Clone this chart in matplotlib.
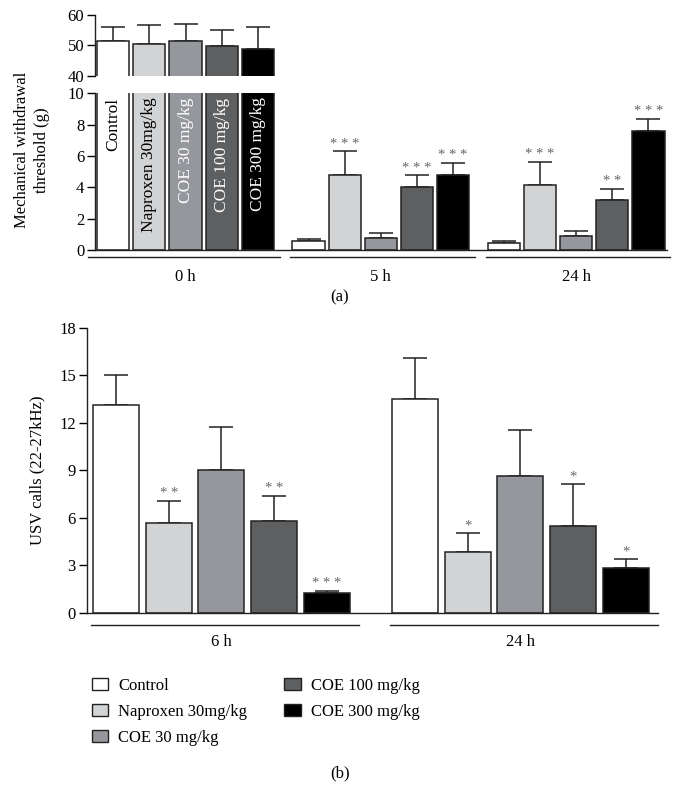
import matplotlib
matplotlib.use('Agg')
import matplotlib.pyplot as plt
import numpy as np
from matplotlib.patches import Patch

plt.rcParams['font.family'] = ['Liberation Serif', 'DejaVu Serif']
plt.rcParams['font.size'] = 12

treatments = ['Control', 'Naproxen 30mg/kg', 'COE 30 mg/kg', 'COE 100 mg/kg', 'COE 300 mg/kg']
colors = ['#ffffff', '#d2d3d5', '#95979c', '#5e5f61', '#000000']
inner_text = ['black', 'black', 'white', 'white', 'white']

# (a) mechanical withdrawal threshold (g)
times_a = ['0 h', '5 h', '24 h']
mwt_0h = [51.6, 50.5, 51.6, 49.9, 48.9]
mwt_0h_err = [4.3, 6.2, 5.5, 5.2, 7.0]
mwt_5h = [0.6, 4.8, 0.77, 4.0, 4.8]
mwt_5h_err = [0.13, 1.5, 0.33, 0.77, 0.76]
mwt_24h = [0.47, 4.13, 0.87, 3.21, 7.62]
mwt_24h_err = [0.13, 1.49, 0.34, 0.71, 0.75]
stars_a = [['', '', '', '', ''],
           ['', '***', '', '***', '***'],
           ['', '***', '', '**', '***']]

# (b) USV calls (22-27kHz)
times_b = ['6 h', '24 h']
usv_6h = [13.16, 5.70, 9.03, 5.80, 1.23]
usv_6h_err = [1.84, 1.35, 2.68, 1.57, 0.16]
usv_24h = [13.48, 3.84, 8.65, 5.51, 2.81]
usv_24h_err = [2.64, 1.20, 2.93, 2.64, 0.57]
stars_b = [['', '**', '', '**', '***'],
           ['', '*', '', '*', '*']]

star_col = '#666666'


def draw_group(ax, x0, vals, errs, width, stars=None):
    x = x0 + np.arange(len(vals))
    ax.bar(x, vals, width=width, color=colors, edgecolor='#222222', linewidth=1.1, zorder=2)
    ax.errorbar(x, vals, yerr=[np.zeros(len(vals)), errs], fmt='none', ecolor='#222222',
                elinewidth=1.1, capsize=8.5, capthick=1.1, zorder=1)
    if stars:
        for xi, v, e, s in zip(x, vals, errs, stars):
            if s:
                ax.annotate(' '.join(s), (xi, v + e), xytext=(0, 0.5), textcoords='offset points',
                            ha='center', va='bottom', fontsize=10.5, color=star_col)
    return x


def style_axis(ax):
    for s in ['top', 'right']:
        ax.spines[s].set_visible(False)
    for s in ['left', 'bottom']:
        ax.spines[s].set_linewidth(1.0)
        ax.spines[s].set_color('#222222')
    ax.set_xticks([])
    ax.tick_params(axis='y', direction='out', length=6, width=1.0, labelsize=12, pad=2)


fig = plt.figure(figsize=(6.8, 8.01), dpi=100)

# ---------- panel (a) ----------
step_a = 5.4
xlim_a = (-0.49, 2 * step_a + 4.51)
ax_lo = fig.add_axes([0.1404, 0.6879, 0.8404, 0.1954])
ax_hi = fig.add_axes([0.1404, 0.9051, 0.8404, 0.0762])

mwt_all = [mwt_0h, mwt_5h, mwt_24h]
mwt_err = [mwt_0h_err, mwt_5h_err, mwt_24h_err]
for g in range(3):
    draw_group(ax_lo, g * step_a, mwt_all[g], mwt_err[g], 0.89, stars_a[g])
draw_group(ax_hi, 0, mwt_0h, mwt_0h_err, 0.89)

ax_lo.set_xlim(*xlim_a)
ax_lo.set_ylim(0, 10)
ax_lo.set_yticks([0, 2, 4, 6, 8, 10])
style_axis(ax_lo)

ax_hi.set_xlim(*xlim_a)
ax_hi.set_ylim(40, 60)
ax_hi.set_yticks([40, 50, 60])
style_axis(ax_hi)
ax_hi.spines['bottom'].set_visible(False)

# names written inside the 0 h bars
for i, name in enumerate(treatments):
    ax_lo.text(i, 9.75, name, rotation=90, ha='center', va='top', fontsize=12.5,
               color=inner_text[i], zorder=3)

tr = ax_lo.get_xaxis_transform()
for g, lab in enumerate(times_a):
    x0 = g * step_a
    start = x0 - 0.7 if g == 0 else x0 - 0.5
    ax_lo.plot([start, x0 + 4.6], [-0.045, -0.045], transform=tr, color='#222222',
               lw=1.0, clip_on=False)
    ax_lo.text(x0 + 2, -0.17, lab, transform=tr, ha='center', va='center', fontsize=12)

fig.text(32 / 680, 1 - 150 / 801, 'Mechanical withdrawal\nthreshold (g)', rotation=90,
         ha='center', va='center', fontsize=12, linespacing=1.3)
fig.text(340 / 680, 1 - 297 / 801, '(a)', ha='center', va='center', fontsize=12)

# ---------- panel (b) ----------
step_b = 5.67
ax_b = fig.add_axes([0.128, 0.2351, 0.8397, 0.3554])
usv_all = [usv_6h, usv_24h]
usv_err = [usv_6h_err, usv_24h_err]
for g in range(2):
    draw_group(ax_b, g * step_b, usv_all[g], usv_err[g], 0.873, stars_b[g])
ax_b.set_xlim(-0.55, step_b + 4.61)
ax_b.set_ylim(0, 18)
ax_b.set_yticks([0, 3, 6, 9, 12, 15, 18])
style_axis(ax_b)
ax_b.set_ylabel('USV calls (22-27kHz)', fontsize=12, labelpad=10)

trb = ax_b.get_xaxis_transform()
for g, lab in enumerate(times_b):
    x0 = g * step_b
    ax_b.plot([x0 - 0.47, x0 + 4.61], [-0.043, -0.043], transform=trb, color='#222222',
              lw=1.0, clip_on=False)
    ax_b.text(x0 + 2, -0.103, lab, transform=trb, ha='center', va='center', fontsize=12)

handles = [Patch(facecolor=c, edgecolor='#222222', linewidth=1.0) for c in colors]
fig.legend(handles, treatments, loc='upper left', bbox_to_anchor=(0.125, 0.162), ncol=2,
           frameon=False, fontsize=12, handlelength=1.0, handleheight=0.75,
           handletextpad=0.6, labelspacing=0.6, columnspacing=2.2, borderaxespad=0)

fig.text(340 / 680, 1 - 773 / 801, '(b)', ha='center', va='center', fontsize=12)

fig.savefig('out.png', dpi=100)
